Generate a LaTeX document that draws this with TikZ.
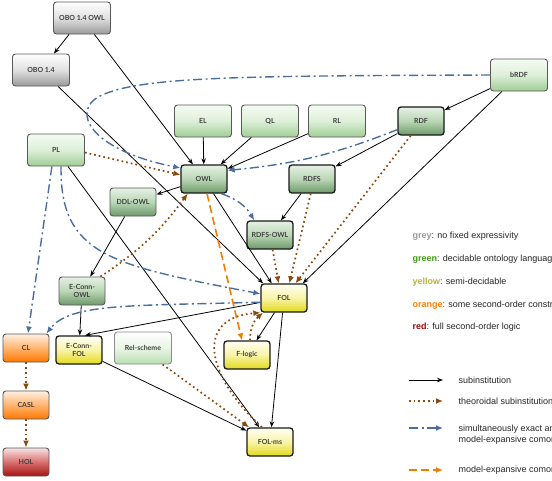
\documentclass[tikz,border=0pt]{standalone}
\usepackage{fontspec}
\setmainfont{Liberation Sans}
\newfontfamily\boxfont{Lato}
\usetikzlibrary{arrows.meta}
\definecolor{gtop}{HTML}{F5FBF3}
\definecolor{gmid}{HTML}{DDEFD8}
\definecolor{gbot}{HTML}{9FCE94}
\definecolor{dgtop}{HTML}{E6F1E4}
\definecolor{dgmid}{HTML}{B9D6B5}
\definecolor{dgbot}{HTML}{6C9A69}
\definecolor{ptop}{HTML}{E9F5E6}
\definecolor{pbot}{HTML}{B8DDB0}
\definecolor{ytop}{HTML}{FFFFF4}
\definecolor{ymid}{HTML}{F8F4A6}
\definecolor{ybot}{HTML}{E2D91C}
\definecolor{otop}{HTML}{FFF0E2}
\definecolor{omid}{HTML}{FFB46E}
\definecolor{obot}{HTML}{FF7800}
\definecolor{rtop}{HTML}{F8E2E2}
\definecolor{rmid}{HTML}{D97070}
\definecolor{rbot}{HTML}{A51212}
\definecolor{theo}{HTML}{8B4A0B}
\definecolor{exact}{HTML}{4A6E9E}
\definecolor{mexp}{HTML}{F07D00}
\definecolor{kgreen}{HTML}{3C9A0F}
\definecolor{kyellow}{HTML}{B5B23A}
\definecolor{korange}{HTML}{FF7F00}
\definecolor{kred}{HTML}{B00000}

\begin{document}
\begin{tikzpicture}[x=1pt,y=-1pt,node distance=67pt,
    base node/.style={rectangle,rounded corners=3pt,draw=black!65,line width=0.9pt,
      minimum width=46pt,minimum height=28pt,inner sep=1pt,align=center,
      text=black!75,font=\boxfont\bfseries\fontsize{7}{7.5}\selectfont},
    wide node/.style={base node,minimum width=57pt,minimum height=32pt},
    core node/.style={draw=black!90,line width=1.3pt},
    grey node/.style={wide node,top color=white,bottom color=black!40,middle color=black!12},
    green node/.style={wide node,top color=gtop,bottom color=gbot,middle color=gmid},
    dark node/.style={base node,top color=dgtop,bottom color=dgbot,middle color=dgmid},
    pale node/.style={wide node,draw=black!45,top color=white,bottom color=pbot,middle color=ptop},
    yellow node/.style={base node,core node,top color=ytop,bottom color=ybot,middle color=ymid},
    orange node/.style={base node,top color=otop,bottom color=obot,middle color=omid},
    red node/.style={base node,top color=rtop,bottom color=rbot,middle color=rmid},
    sub edge/.style={-{Stealth[length=6pt,width=4.5pt]},black,line width=0.8pt},
    theo edge/.style={-{Latex[length=7pt,width=6pt]},theo,line width=1.7pt,dash pattern=on 1.7pt off 3pt},
    exact edge/.style={-{Latex[length=7pt,width=6pt]},exact,line width=1.4pt,dash pattern=on 9pt off 3.5pt on 2pt off 3.5pt},
    mexp edge/.style={-{Latex[length=7pt,width=6pt]},mexp,line width=1.6pt,dash pattern=on 8pt off 4pt},
    key text/.style={anchor=west,align=left,font=\fontsize{9}{11}\selectfont,text=black!85}]
\useasboundingbox (0,0) rectangle (552,480);

\node[grey node] (obowl) at (82,18) {OBO 1.4 OWL};
\node[grey node] (obo) at (41,70) {OBO 1.4};
\node[green node] (brdf) at (519,75) {bRDF};
\node[green node] (el) at (203,121) {EL};
\node[green node] (ql) [right of=el] {QL};
\node[green node] (rl) [right of=ql] {RL};
\node[dark node,core node] (rdf) at (421,121) {RDF};
\node[green node] (pl) at (56,150) {PL};
\node[dark node,core node] (owl) at (204,179) {OWL};
\node[dark node,core node] (rdfs) at (312,179) {RDFS};
\node[dark node] (ddl) at (133,202) {DDL-OWL};
\node[dark node,core node] (rdfsowl) at (270,235) {RDFS-OWL};
\node[dark node] (ecowl) at (82,291) {E-Conn-\\OWL};
\node[yellow node] (fol) at (284,298) {FOL};
\node[orange node] (cl) at (26,348) {CL};
\node[yellow node] (ecfol) at (79,350) {E-Conn-\\FOL};
\node[pale node] (rel) at (143,348) {Rel-scheme};
\node[yellow node] (flogic) at (247,355) {F-logic};
\node[orange node] (casl) [node distance=57pt,below of=cl] {CASL};
\node[yellow node] (folms) at (270,442) {FOL-ms};
\node[red node] (hol) [node distance=57pt,below of=casl] {HOL};

\path[sub edge]
    (obowl) edge (obo)
    (obowl) edge (owl)
    (obo) edge (fol.145)
    (el) edge (owl)
    (ql) edge (owl)
    (rl) edge (owl)
    (brdf) edge (rdf)
    (brdf) edge (fol.38)
    (rdf) edge (rdfs)
    (rdfs) edge (rdfsowl)
    (owl) edge (ddl)
    (owl) edge (fol.130)
    (ddl) edge (ecowl)
    (ecowl) edge (ecfol)
    (fol) edge ([xshift=6pt]ecfol.north)
    (fol) edge (flogic)
    (fol) edge (folms)
    (ecfol) edge (folms)
    (pl) edge (folms);

\path[theo edge]
    (pl.355) edge (owl.170)
    (ecowl.38) edge[bend right=10] (owl.222)
    (rdf.235) edge (fol.52)
    (rdfs.265) edge (fol.70)
    (rdfsowl) edge (fol.110)
    (rel.320) edge (folms.145)
    ([xshift=3pt]flogic.north) edge[bend left=25] (fol.215)
    (cl) edge (casl)
    (casl) edge (hol);
\draw[theo edge] ([xshift=-8pt]folms.north) .. controls (205,375) and (195,318) .. (fol.south west);

\path[exact edge]
    (rdf.200) edge[bend left=8] (owl.20)
    (owl.320) edge[bend left=20] (rdfsowl.137)
    (pl.256) edge ([xshift=2pt]cl.north);
\draw[exact edge] (brdf.west) .. controls (250,76) and (140,76) .. (100,96)
    .. controls (70,111) and (90,150) .. (owl.155);
\draw[exact edge] (pl.287) .. controls (60,255) and (110,265) .. (fol.170);
\draw[exact edge] (fol.190) .. controls (130,306) and (70,303) .. ([xshift=-3pt]cl.north east);

\path[mexp edge]
    ([xshift=3pt]owl.south) edge ([xshift=-5pt]flogic.north);

\node[key text] (kgrey) at (409,236) {\textbf{\textcolor{black!40}{grey}}: no fixed expressivity};
\node[key text] (kgreen) at (409,259) {\textbf{\textcolor{kgreen}{green}}: decidable ontology languages};
\node[key text] (kyellow) at (409,282) {\textbf{\textcolor{kyellow}{yellow}}: semi-decidable};
\node[key text] (korange) at (409,305) {\textbf{\textcolor{korange}{orange}}: some second-order constructs};
\node[key text] (kred) at (409,327) {\textbf{\textcolor{kred}{red}}: full second-order logic};

\coordinate (s1) at (409,380); \coordinate (e1) at (443,380);
\coordinate (s2) at (409,401); \coordinate (e2) at (443,401);
\coordinate (s3) at (409,428); \coordinate (e3) at (443,428);
\coordinate (s4) at (409,470); \coordinate (e4) at (443,470);
\draw[sub edge] (s1) -- (e1);
\draw[theo edge] (s2) -- (e2);
\draw[exact edge] (s3) -- (e3);
\draw[mexp edge] (s4) -- (e4);
\node[key text] (ksub) at (455,380) {subinstitution};
\node[key text] (ktheo) at (455,401) {theoroidal subinstitution};
\node[key text] (kexact) at (455,434.5) {simultaneously exact and\\model-expansive comorphism};
\node[key text] (kmexp) at (455,470) {model-expansive comorphism};
\end{tikzpicture}
\end{document}
